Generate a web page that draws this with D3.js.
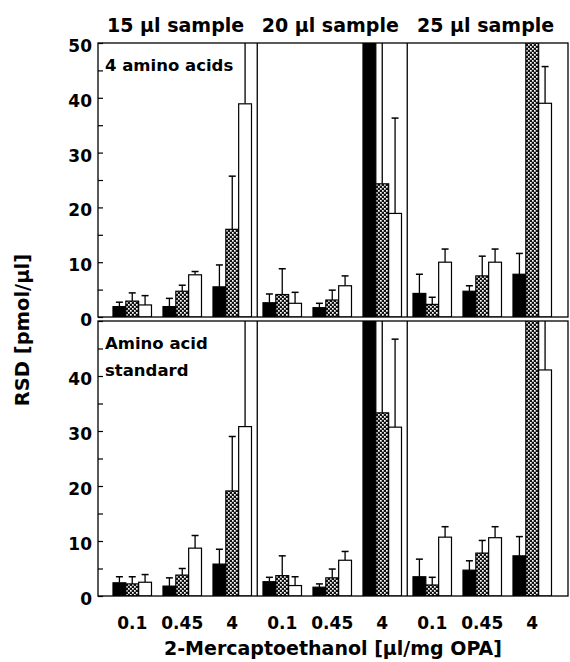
<!DOCTYPE html>
<html>
<head>
<meta charset="utf-8">
<script src="https://cdn.jsdelivr.net/npm/d3@7"></script>
<style>
  html, body { margin: 0; padding: 0; background: #fff; }
  svg { display: block; }
  text { font-family: "DejaVu Sans", "Liberation Sans", sans-serif; font-weight: bold; fill: #000; }
</style>
</head>
<body>
<div id="chart"></div>
<script>
// ---------- data ----------
const panels = ["15 µl sample", "20 µl sample", "25 µl sample"];
const categories = ["0.1", "0.45", "4"];
const series = ["solid", "checked", "open"];
const yTickValues = [0, 5, 10, 15, 20, 25, 30, 35, 40, 45, 50];

// Top row: "4 amino acids" (values in order: 15µl x3, 20µl x3, 25µl x3); >50 = off scale
const topSolid      = [1.9, 1.9, 5.5, 2.6, 1.7, 60, 4.3, 4.7, 7.8];
const topSolidErr   = [0.8, 1.5, 4.0, 1.6, 0.8, 0, 3.5, 1.0, 3.8];
const topChecked    = [2.9, 4.7, 16.0, 4.1, 3.1, 24.3, 2.3, 7.5, 60];
const topCheckedErr = [1.5, 1.1, 9.7, 4.7, 1.8, 40, 1.3, 3.6, 0];
const topOpen       = [2.2, 7.7, 38.9, 2.5, 5.7, 18.9, 10.0, 10.0, 39.0];
const topOpenErr    = [1.7, 0.6, 20, 2.0, 1.8, 17.4, 2.4, 2.4, 6.7];

// Bottom row: "Amino acid standard"
const botSolid      = [2.4, 1.8, 5.8, 2.6, 1.6, 60, 3.5, 4.7, 7.3];
const botSolidErr   = [1.1, 1.5, 2.7, 0.8, 0.6, 0, 3.2, 1.7, 3.5];
const botChecked    = [2.2, 3.8, 19.1, 3.7, 3.3, 33.3, 2.0, 7.8, 60];
const botCheckedErr = [1.3, 1.2, 9.9, 3.6, 1.6, 30, 1.4, 2.3, 0];
const botOpen       = [2.5, 8.7, 30.8, 1.9, 6.5, 30.7, 10.7, 10.6, 41.1];
const botOpenErr    = [1.4, 2.3, 30, 1.6, 1.6, 16.0, 1.9, 2.0, 15];

const rows = [
  { label: ["4 amino acids"], vals: [topSolid, topChecked, topOpen], errs: [topSolidErr, topCheckedErr, topOpenErr], y0: 317, y1: 43, showTop: true },
  { label: ["Amino acid", "standard"], vals: [botSolid, botChecked, botOpen], errs: [botSolidErr, botCheckedErr, botOpenErr], y0: 596, y1: 321, showTop: false }
];

// ---------- layout ----------
const W = 570, H = 662;
const left = 98, right = 568;

const svg = d3.select("#chart").append("svg").attr("width", W).attr("height", H);

const defs = svg.append("defs");
const pat = defs.append("pattern").attr("id", "check").attr("patternUnits", "userSpaceOnUse")
  .attr("width", 4).attr("height", 4);
pat.append("rect").attr("width", 4).attr("height", 4).attr("fill", "#111");
pat.append("rect").attr("x", 0).attr("y", 0).attr("width", 1.7).attr("height", 1.7).attr("fill", "#fff");
pat.append("rect").attr("x", 2).attr("y", 2).attr("width", 1.7).attr("height", 1.7).attr("fill", "#fff");

const groupKeys = [];
panels.forEach(p => categories.forEach(c => groupKeys.push(p + "|" + c)));

const xGroup = d3.scaleBand().domain(groupKeys).range([left, right])
  .paddingInner(0.23).paddingOuter(0.315).align(0.476);
const xSeries = d3.scaleBand().domain(series).range([0, xGroup.bandwidth()]);

const fills = { solid: "#000", checked: "url(#check)", open: "#fff" };

// panel divider x positions (between group 3/4 and 6/7)
const dividers = [3, 6].map(i => {
  const prevEnd = xGroup(groupKeys[i - 1]) + xGroup.bandwidth();
  const nextStart = xGroup(groupKeys[i]);
  return (prevEnd + nextStart) / 2;
});
const panelBounds = [left, ...dividers, right];

rows.forEach((row, ri) => {
  const y = d3.scaleLinear().domain([0, 50]).range([row.y0, row.y1]);
  const g = svg.append("g");

  const clipId = "clip" + ri;
  defs.append("clipPath").attr("id", clipId).append("rect")
    .attr("x", left).attr("y", row.y1).attr("width", right - left).attr("height", row.y0 - row.y1);

  const plot = g.append("g").attr("clip-path", `url(#${clipId})`);

  series.forEach((s, si) => {
    const vals = row.vals[si], errs = row.errs[si];
    groupKeys.forEach((k, gi) => {
      const v = vals[gi], e = errs[gi];
      const bx = xGroup(k) + xSeries(s);
      const bw = xSeries.bandwidth();
      const cx = bx + bw / 2;
      if (e > 0) {
        const ey = y(v + e);
        plot.append("line").attr("x1", cx).attr("x2", cx)
          .attr("y1", y(v)).attr("y2", ey).attr("stroke", "#000").attr("stroke-width", 1.3);
        plot.append("line").attr("x1", cx - 3.5).attr("x2", cx + 3.5)
          .attr("y1", ey).attr("y2", ey).attr("stroke", "#000").attr("stroke-width", 1.5);
      }
      plot.append("rect").attr("x", bx).attr("y", y(v))
        .attr("width", bw).attr("height", y(0) - y(v))
        .attr("fill", fills[s]).attr("stroke", "#000").attr("stroke-width", 1.2);
    });
  });

  // frame
  g.append("rect").attr("x", left).attr("y", row.y1).attr("width", right - left).attr("height", row.y0 - row.y1)
    .attr("fill", "none").attr("stroke", "#000").attr("stroke-width", 1.3);
  dividers.forEach(dx => {
    g.append("line").attr("x1", dx).attr("x2", dx).attr("y1", row.y1).attr("y2", row.y0)
      .attr("stroke", "#000").attr("stroke-width", 1.3);
  });

  // axis
  const axis = d3.axisLeft(y).tickValues(yTickValues)
    .tickSizeInner(-5).tickSizeOuter(0).tickPadding(6)
    .tickFormat(d => (d % 10 === 0 && (row.showTop || d < 50)) ? d : "");
  const ax = g.append("g").attr("transform", `translate(${left},0)`).call(axis);
  ax.select(".domain").remove();
  ax.selectAll(".tick line").attr("stroke", "#000").attr("stroke-width", 1.2);
  ax.selectAll(".tick text").attr("font-size", 17).attr("dy", "0.5em")
    .style("font-family", '"DejaVu Sans", sans-serif').style("font-weight", "bold");

  // inner label
  row.label.forEach((t, li) => {
    g.append("text").attr("x", 105).attr("y", row.y1 + 28 + li * 27)
      .attr("font-size", 16.5).text(t);
  });
});

// panel titles
panels.forEach((p, i) => {
  svg.append("text").attr("x", (panelBounds[i] + panelBounds[i + 1]) / 2 - 2).attr("y", 32)
    .attr("text-anchor", "middle").attr("font-size", 19).text(p);
});

// x tick labels
groupKeys.forEach((k, gi) => {
  svg.append("text").attr("x", xGroup(k) + xGroup.bandwidth() / 2).attr("y", 629)
    .attr("text-anchor", "middle").attr("font-size", 17).text(categories[gi % categories.length]);
});

// axis titles
svg.append("text").attr("x", (left + right) / 2).attr("y", 655)
  .attr("text-anchor", "middle").attr("font-size", 19).text("2-Mercaptoethanol [µl/mg OPA]");
svg.append("text").attr("transform", "translate(29,330) rotate(-90)")
  .attr("text-anchor", "middle").attr("font-size", 19.5).text("RSD [pmol/µl]");
</script>
</body>
</html>
